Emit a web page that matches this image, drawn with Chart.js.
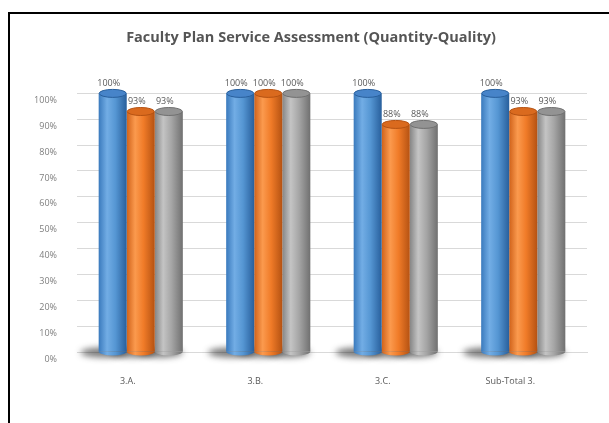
<!DOCTYPE html>
<html>
<head>
<meta charset="utf-8">
<script src="https://cdn.jsdelivr.net/npm/chart.js@4.4.1/dist/chart.umd.min.js"></script>
<style>
  html, body { margin: 0; padding: 0; width: 609px; height: 423px; overflow: hidden; background: #fff; }
  #frame { position: absolute; left: 8px; top: 12px; width: 660px; height: 480px; border: 2px solid #000; box-sizing: border-box; }
  #chart { position: absolute; left: 0; top: 0; }
</style>
</head>
<body>
<div id="frame"></div>
<canvas id="chart" width="609" height="423"></canvas>
<script>
const categories = ['3.A.', '3.B.', '3.C.', 'Sub-Total 3.'];
const series1 = [100, 100, 100, 100];
const series2 = [93, 100, 88, 93];
const series3 = [93, 100, 88, 93];
const yTicks = [0, 10, 20, 30, 40, 50, 60, 70, 80, 90, 100];

// cylinder shading per series: [edge, highlight, body, dark edge, top]
const shades = [
  ['#3a7abd', '#72ade5', '#5596d3', '#285f9c', '#4784c9'],
  ['#d0621a', '#fb9a4e', '#f07b28', '#b55212', '#da6a1e'],
  ['#858585', '#c4c4c4', '#a5a5a5', '#707070', '#939393']
];

function cylGradient(ctx, el, s) {
  const g = ctx.createLinearGradient(el.x - el.width / 2, 0, el.x + el.width / 2, 0);
  g.addColorStop(0, s[0]);
  g.addColorStop(0.3, s[1]);
  g.addColorStop(0.6, s[2]);
  g.addColorStop(1, s[3]);
  return g;
}

const cylinders = {
  id: 'cylinders',
  beforeDatasetsDraw(chart) {
    const ctx = chart.ctx;
    chart.data.datasets.forEach((ds, i) => {
      const meta = chart.getDatasetMeta(i);
      meta.data.forEach(el => {
        el.options.backgroundColor = cylGradient(ctx, el, shades[i]);
        // floor shadow
        ctx.save();
        ctx.filter = 'blur(3px)';
        ctx.fillStyle = 'rgba(30,30,30,0.6)';
        ctx.beginPath();
        ctx.ellipse(el.x - 9, el.base + 1, el.width / 2 + 9, 5, 0, 0, Math.PI * 2);
        ctx.fill();
        ctx.restore();
      });
    });
  },
  afterDatasetsDraw(chart) {
    const ctx = chart.ctx;
    chart.data.datasets.forEach((ds, i) => {
      const meta = chart.getDatasetMeta(i);
      meta.data.forEach((el, j) => {
        const rx = el.width / 2;
        ctx.save();
        // rounded bottom
        ctx.fillStyle = cylGradient(ctx, el, shades[i]);
        ctx.beginPath();
        ctx.ellipse(el.x, el.base, rx, 4, 0, 0, Math.PI);
        ctx.fill();
        // top cap
        ctx.fillStyle = shades[i][4];
        ctx.strokeStyle = shades[i][3];
        ctx.lineWidth = 1;
        ctx.beginPath();
        ctx.ellipse(el.x, el.y, rx - 0.5, 4, 0, 0, Math.PI * 2);
        ctx.fill();
        ctx.stroke();
        // value label
        ctx.fillStyle = '#595959';
        ctx.font = '9px "Open Sans", sans-serif';
        ctx.textAlign = 'center';
        ctx.textBaseline = 'middle';
        ctx.fillText(ds.data[j] + '%', el.x - 4, el.y - 10);
        ctx.restore();
      });
    });
  }
};

new Chart(document.getElementById('chart'), {
  type: 'bar',
  data: {
    labels: categories,
    datasets: [
      { label: 'Series 1', data: series1, backgroundColor: () => shades[0][2] },
      { label: 'Series 2', data: series2, backgroundColor: () => shades[1][2] },
      { label: 'Series 3', data: series3, backgroundColor: () => shades[2][2] }
    ]
  },
  options: {
    responsive: false,
    animation: false,
    categoryPercentage: 0.66,
    barPercentage: 1.0,
    layout: { padding: { left: 35, right: 22, top: 0, bottom: 0 } },
    plugins: {
      legend: { display: false },
      tooltip: { enabled: false },
      title: {
        display: true,
        text: 'Faculty Plan Service Assessment (Quantity-Quality)',
        color: '#555555',
        font: { family: 'Open Sans', size: 14.5, weight: '700' },
        padding: { top: 29, bottom: 47 }
      }
    },
    scales: {
      x: {
        grid: { display: false },
        border: { color: '#d9d9d9' },
        ticks: { color: '#595959', font: { family: 'Open Sans', size: 9 }, padding: 16, labelOffset: -13 },
        afterFit: s => { s.height = 71; }
      },
      y: {
        min: 0,
        max: 100,
        afterBuildTicks: s => { s.ticks = yTicks.map(v => ({ value: v })); },
        grid: { color: '#d9d9d9', drawTicks: false },
        border: { display: false },
        ticks: {
          color: '#7f7f7f',
          font: { family: 'Open Sans', size: 9 },
          padding: 20,
          labelOffset: 7,
          callback: v => v + '%'
        },
        afterFit: s => { s.width = 42; }
      }
    }
  },
  plugins: [cylinders]
});
</script>
</body>
</html>
